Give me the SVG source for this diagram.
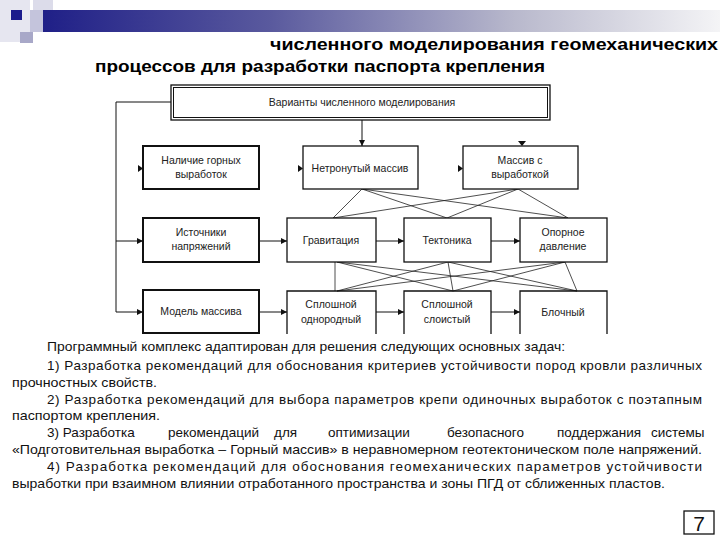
<svg xmlns="http://www.w3.org/2000/svg" width="720" height="540" viewBox="0 0 720 540">
<defs>
<linearGradient id="bar" x1="0" y1="0" x2="1" y2="0">
<stop offset="0" stop-color="#1c1c86"/>
<stop offset="0.35" stop-color="#5a5a9e"/>
<stop offset="0.7" stop-color="#b8b8cc"/>
<stop offset="1" stop-color="#f4f4f6"/>
</linearGradient>
<marker id="ah" viewBox="0 0 10 10" refX="10" refY="5" markerWidth="6" markerHeight="6" orient="auto" markerUnits="userSpaceOnUse">
<path d="M0,0 L10,5 L0,10 z" fill="#111"/>
</marker>
</defs>
<style>
.box{fill:#fff;stroke:#111;stroke-width:1.3}
.boxb{fill:#fff;stroke:#111;stroke-width:2}
.open{fill:none;stroke:#111;stroke-width:1.3}
.lbl{font-family:"Liberation Sans",Arial,sans-serif;font-size:10.5px;fill:#222;text-anchor:middle}
.con{fill:none;stroke:#111;stroke-width:1}
.x{fill:none;stroke:#222;stroke-width:0.8}
.head{fill:#111;font-family:"Liberation Sans",Arial,sans-serif;font-size:13.5px}
.ttl{fill:#000;font-family:"Liberation Sans",Arial,sans-serif;font-size:17px;font-weight:bold}
.tip{fill:#111}
</style>
<rect width="720" height="540" fill="#fff"/>
<g id="decor">
<rect x="0" y="0" width="30" height="42" fill="#e6e6f0"/>
<rect x="33" y="0" width="20" height="20" fill="#dcdcea"/>
<rect x="30" y="10" width="690" height="22" fill="url(#bar)"/>
<rect x="30" y="10" width="13" height="22" fill="#c4c4dc"/>
<rect x="11" y="10" width="11" height="10" fill="#1a1a8c"/>
<rect x="20" y="32" width="13" height="11" fill="#a8a8c8"/>
</g>
<g id="title">
<text class="ttl" x="270" y="50" textLength="448" lengthAdjust="spacingAndGlyphs">численного моделирования геомеханических</text>
<text class="ttl" x="95" y="72" textLength="450" lengthAdjust="spacingAndGlyphs">процессов для разработки паспорта крепления</text>
</g>
<g id="connectors">
<path class="con" d="M171,102 H116 V312 H143" marker-end="url(#ah)"/>
<path class="con" d="M116,241 H143" marker-end="url(#ah)"/>
<path class="con" d="M362,120 V146" marker-end="url(#ah)"/>
<path class="tip" d="M518,141 L526,141 L522,146 z"/>
<path class="tip" d="M138,165 L143,168.5 L138,172 z"/>
<path class="tip" d="M298,165 L303,168.5 L298,172 z"/>
<path class="tip" d="M458,165 L463,168.5 L458,172 z"/>
<path class="con" d="M259,241 H287" marker-end="url(#ah)"/>
<path class="con" d="M376,241 H404" marker-end="url(#ah)"/>
<path class="con" d="M491,241 H520" marker-end="url(#ah)"/>
<path class="con" d="M259,312 H287" marker-end="url(#ah)"/>
<path class="con" d="M376,312 H404" marker-end="url(#ah)"/>
<path class="con" d="M491,312 H520" marker-end="url(#ah)"/>
<path class="x" d="M362,189 L333,218 M362,189 L447,218 M362,189 L568,218 M518,189 L333,218 M518,189 L447,218 M518,189 L568,218"/>
<path class="x" d="M335,262 L335,291 M337,262 L453,291 M337,262 L577,291 M448,262 L337,291 M448,262 L453,291 M448,262 L577,291 M565,262 L337,291 M565,262 L453,291 M565,262 L577,291"/>
</g>
<g id="n-variants">
<rect class="box" x="171" y="85" width="379" height="35"/>
<rect fill="none" stroke="#111" stroke-width="1" x="173.5" y="87.5" width="374" height="30"/>
<text class="lbl" x="362" y="106">Варианты численного моделирования</text>
</g>
<g id="n-nalichie">
<rect class="boxb" x="143" y="146" width="116" height="43"/>
<text class="lbl" x="201" y="164">Наличие горных</text>
<text class="lbl" x="201" y="178">выработок</text>
</g>
<g id="n-netronuty">
<rect class="box" x="303" y="146" width="115" height="43"/>
<text class="lbl" x="360" y="172">Нетронутый массив</text>
</g>
<g id="n-massiv-vyr">
<rect class="box" x="463" y="146" width="115" height="43"/>
<text class="lbl" x="520" y="164">Массив с</text>
<text class="lbl" x="520" y="178">выработкой</text>
</g>
<g id="n-istochniki">
<rect class="boxb" x="143" y="218" width="116" height="44"/>
<text class="lbl" x="201" y="236">Источники</text>
<text class="lbl" x="201" y="250">напряжений</text>
</g>
<g id="n-gravitacia">
<rect class="box" x="287" y="218" width="89" height="44"/>
<text class="lbl" x="331" y="244">Гравитация</text>
</g>
<g id="n-tektonika">
<rect class="box" x="404" y="218" width="87" height="44"/>
<text class="lbl" x="447" y="244">Тектоника</text>
</g>
<g id="n-opornoe">
<rect class="box" x="520" y="218" width="87" height="44"/>
<text class="lbl" x="563" y="236">Опорное</text>
<text class="lbl" x="563" y="250">давление</text>
</g>
<g id="n-model">
<rect class="boxb" x="143" y="290" width="116" height="43"/>
<text class="lbl" x="201" y="315">Модель массива</text>
</g>
<g id="n-sploshnoy-odn">
<path class="open" d="M287,334 V291 H376 V334"/>
<text class="lbl" x="331" y="308">Сплошной</text>
<text class="lbl" x="331" y="323">однородный</text>
</g>
<g id="n-sploshnoy-sl">
<path class="open" d="M404,334 V291 H491 V334"/>
<text class="lbl" x="447" y="308">Сплошной</text>
<text class="lbl" x="447" y="323">слоистый</text>
</g>
<g id="n-blochny">
<path class="open" d="M520,334 V291 H607 V334"/>
<text class="lbl" x="563" y="316">Блочный</text>
</g>
<g id="body">
<text class="head" x="47" y="351" textLength="518" lengthAdjust="spacingAndGlyphs">Программный комплекс адаптирован для решения следующих основных задач:</text>
<text class="head" x="47" y="370" textLength="655" lengthAdjust="spacing">1) Разработка рекомендаций для обоснования критериев устойчивости пород кровли различных</text>
<text class="head" x="12" y="387" textLength="145" lengthAdjust="spacingAndGlyphs">прочностных свойств.</text>
<text class="head" x="47" y="404" textLength="655" lengthAdjust="spacing">2) Разработка рекомендаций для выбора параметров крепи одиночных выработок с поэтапным</text>
<text class="head" x="12" y="420" textLength="148" lengthAdjust="spacingAndGlyphs">паспортом крепления.</text>
<text class="head" y="437"><tspan x="47">3) Разработка</tspan><tspan x="168">рекомендаций</tspan><tspan x="274">для</tspan><tspan x="328">оптимизации</tspan><tspan x="447">безопасного</tspan><tspan x="557">поддержания</tspan><tspan x="651">системы</tspan></text>
<text class="head" x="12" y="454" textLength="690" lengthAdjust="spacingAndGlyphs">«Подготовительная выработка – Горный массив» в неравномерном геотектоническом поле напряжений.</text>
<text class="head" x="47" y="471" textLength="655" lengthAdjust="spacing">4) Разработка рекомендаций для обоснования геомеханических параметров устойчивости</text>
<text class="head" x="12" y="488" textLength="653" lengthAdjust="spacingAndGlyphs">выработки при взаимном влиянии отработанного пространства и зоны ПГД от сближенных пластов.</text>
</g>
<g id="page">
<rect x="684" y="511" width="30" height="23" fill="#fff" stroke="#111" stroke-width="1.3"/>
<text x="699" y="531" font-family="Liberation Sans, Arial, sans-serif" font-size="21" text-anchor="middle" fill="#111">7</text>
</g>
</svg>
